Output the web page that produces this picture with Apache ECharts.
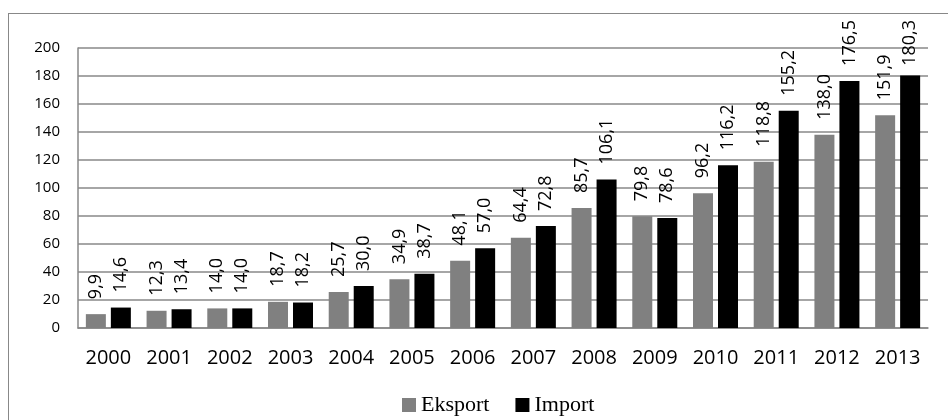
<!DOCTYPE html>
<html><head><meta charset="utf-8">
<script src="https://cdn.jsdelivr.net/npm/echarts@6/dist/echarts.min.js"></script>
<style>html,body{margin:0;padding:0;background:#fff;overflow:hidden}#c{width:948px;height:420px;position:relative}
#frame{position:absolute;left:8px;top:13px;width:980px;height:440px;border:1.5px solid #888;box-sizing:border-box;pointer-events:none}</style>
</head><body><div id="c"></div><div id="frame"></div>
<script>
const categories = ['2000','2001','2002','2003','2004','2005','2006','2007','2008','2009','2010','2011','2012','2013'];
const eksport = [9.9,12.3,14.0,18.7,25.7,34.9,48.1,64.4,85.7,79.8,96.2,118.8,138.0,151.9];
const importV = [14.6,13.4,14.0,18.2,30.0,38.7,57.0,72.8,106.1,78.6,116.2,155.2,176.5,180.3];
const chart = echarts.init(document.getElementById('c'));
const lbl = {show:true,position:'top',rotate:90,align:'left',verticalAlign:'middle',distance:15,
  fontFamily:'Open Sans',fontSize:18,color:'#000',formatter:p=>p.value.toFixed(1).replace('.',',')};
const clampTop = p => (p.labelRect.y < 20 ? {y: 20 + p.labelRect.height} : {});
chart.setOption({
  animation:false,
  grid:{left:78,right:20,top:48,bottom:92},
  legend:{left:397,top:389,itemWidth:14,itemHeight:14,itemGap:26,
    textStyle:{fontFamily:'Liberation Serif',fontSize:22,color:'#000'},
    data:[{name:'Eksport',icon:'rect'},{name:'Import',icon:'rect'}]},
  xAxis:{type:'category',data:categories,
    axisLine:{lineStyle:{color:'#888',width:1.5}},axisTick:{show:false},
    axisLabel:{fontFamily:'Open Sans',fontSize:20,color:'#000',margin:20}},
  yAxis:{type:'value',min:0,max:200,interval:20,
    axisLine:{show:true,lineStyle:{color:'#888',width:1.5}},axisTick:{show:false},
    splitLine:{lineStyle:{color:'#888',width:1.5}},
    axisLabel:{fontFamily:'Open Sans',fontSize:15,color:'#000',margin:18}},
  series:[
    {name:'Eksport',type:'bar',data:eksport,barWidth:20,barGap:'25%',itemStyle:{color:'#808080'},label:lbl,labelLayout:clampTop},
    {name:'Import',type:'bar',data:importV,barWidth:20,barGap:'25%',itemStyle:{color:'#000'},label:lbl,labelLayout:clampTop}
  ]
});
</script></body></html>
